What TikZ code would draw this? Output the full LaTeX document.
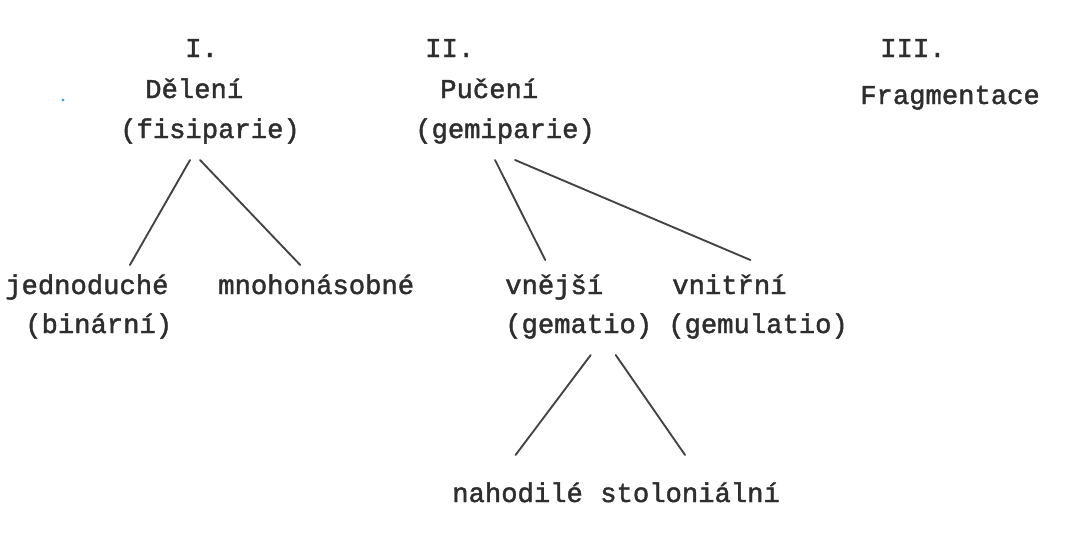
\documentclass[tikz,border=0pt]{standalone}
\usepackage{fontspec}
\newfontfamily\typew{Liberation Mono}[FakeBold=1.6]
\usetikzlibrary{calc}
\definecolor{ink}{HTML}{2E2E2E}
\definecolor{speck}{HTML}{3FA9D8}
\tikzset{
  lbl/.style={anchor=base west, inner sep=0pt, text=ink, font=\typew\fontsize{20.4}{26}\selectfont},
  conn/.style={draw=ink!90, line width=1.4pt, line cap=round}
}
\begin{document}
\begin{tikzpicture}[x=0.75pt,y=-0.75pt]
\useasboundingbox (0,0) rectangle (1066,557);
\fill[white] (0,0) rectangle (1066,557);
% column I
\node[lbl] (n1) at (185,57) {I.};
\node[lbl] (del) at (145,98) {Dělení};
\node[lbl] (fis) at (120,138) {(fisiparie)};
% column II
\node[lbl] (n2) at (425,57) {II.};
\node[lbl] (puc) at (440,98) {Pučení};
\node[lbl] (gemp) at (415,138) {(gemiparie)};
% column III
\node[lbl] (n3) at (880,57) {III.};
\node[lbl] (fra) at (860,104) {Fragmentace};
% second row
\node[lbl] (jed) at (5,294) {jednoduché};
\node[lbl] (bin) at (25,333) {(binární)};
\node[lbl] (mno) at (218,294) {mnohonásobné};
\node[lbl] (vne) at (505,294) {vnější};
\node[lbl] (gemt) at (505,333) {(gematio)};
\node[lbl] (vni) at (672,294) {vnitřní};
\node[lbl] (gemu) at (668,333) {(gemulatio)};
% third row
\node[lbl] (nah) at (452,502) {nahodilé};
\node[lbl] (sto) at (600,502) {stoloniální};
% connectors
\draw[conn] ($(fis.base)+(-20,22)$) -- ($(jed.base)+(43,-29)$);
\draw[conn] ($(fis.base)+(-10,22)$) -- ($(mno.base)+(-16,-29)$);
\draw[conn] ($(gemp.base)+(-10,22)$) -- ($(vne.base)+(-9,-34)$);
\draw[conn] ($(gemp.base)+(10,22)$) -- ($(vni.base)+(21,-34)$);
\draw[conn] ($(gemt.base)+(12,22)$) -- ($(nah.base)+(-2,-47)$);
\draw[conn] ($(gemt.base)+(37,22)$) -- ($(sto.base)+(-5,-47)$);
% scan speck
\fill[speck] (63,100) circle (1.6);
\end{tikzpicture}
\end{document}
